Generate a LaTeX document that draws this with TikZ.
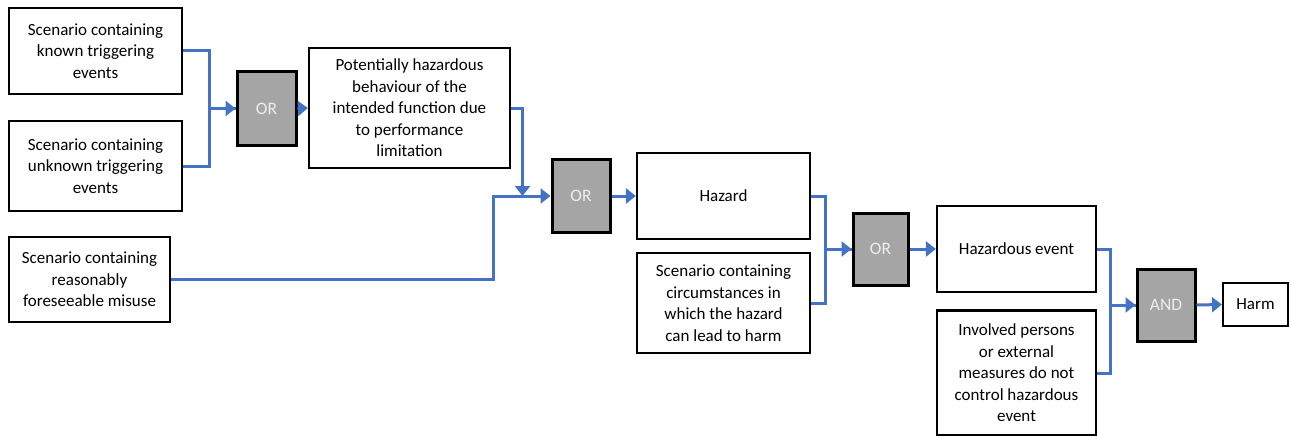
\documentclass[tikz,border=0pt]{standalone}
\usepackage{fontspec}
\setmainfont{Carlito}
\usetikzlibrary{arrows.meta,calc}
\definecolor{connblue}{HTML}{4472C4}
\definecolor{gategray}{HTML}{A5A5A5}
\tikzset{
  txtbox/.style={draw=black, line width=2.2pt, fill=white, align=center, inner sep=1pt,
    font=\fontsize{17}{21.5}\selectfont, text=black},
  gate/.style={draw=black, line width=3pt, fill=gategray, text=white!93!black,
    font=\fontsize{17.5}{20}\selectfont, minimum width=#1},
  gate/.default=58pt,
  conn/.style={draw=connblue, line width=3pt, -{Triangle[length=10pt,width=15pt]}},
  plain/.style={draw=connblue, line width=3pt},
}
\begin{document}
\begin{tikzpicture}[x=1pt,y=-1pt]
\useasboundingbox (0,0) rectangle (1291,436);
\node[txtbox, minimum width=173pt, minimum height=86pt] (A) at (95.5,51) {Scenario containing\\known triggering\\events};
\node[txtbox, minimum width=173pt, minimum height=90pt] (B) at (95.5,166) {Scenario containing\\unknown triggering\\events};
\node[txtbox, minimum width=161pt, minimum height=85pt] (C) at (89.5,279.5) {Scenario containing\\reasonably\\foreseeable misuse};
\node[gate=59pt, minimum height=73pt] (OR1) at (266.5,108.5) {OR};
\node[txtbox, minimum width=201pt, minimum height=120pt] (P) at (409.5,108) {Potentially hazardous\\behaviour of the\\intended function due\\to performance\\limitation};
\node[gate=58pt, minimum height=73pt] (OR2) at (581,196) {OR};
\node[txtbox, minimum width=173pt, minimum height=86pt] (Hz) at (723.5,196) {Hazard};
\node[txtbox, minimum width=173pt, minimum height=100pt] (Sc) at (723.5,303) {Scenario containing\\circumstances in\\which the hazard\\can lead to harm};
\node[gate=55pt, minimum height=72pt] (OR3) at (880.5,249) {OR};
\node[txtbox, minimum width=159pt, minimum height=86pt] (HE) at (1016.5,249) {Hazardous event};
\node[txtbox, minimum width=159pt, minimum height=125pt] (IP) at (1016.5,373) {Involved persons\\or external\\measures do not\\control hazardous\\event};
\node[gate=58pt, minimum height=72pt] (AND) at (1166,305) {AND};
\node[txtbox, minimum width=65pt, minimum height=43pt] (Harm) at (1255.5,304.5) {Harm};

\draw[conn] (A.east) -- ++(26,0) |- (OR1.west);
\draw[plain] (B.east) -- ++(26,0) |- (OR1.west);
\draw[conn] (OR1.east) -- (P.west);
\coordinate (j2) at ($(OR2.west)+(-28,0)$);
\draw[conn] (P.east) -| (j2);
\draw[conn] (C.east) -| ($(OR2.west)+(-57,0)$) -- (OR2.west);
\draw[conn] (OR2.east) -- (Hz.west);
\draw[conn] (Hz.east) -- ++(14,0) |- (OR3.west);
\draw[plain] (Sc.east) -- ++(14,0) |- (OR3.west);
\draw[conn] (OR3.east) -- (HE.west);
\draw[conn] (HE.east) -- ++(13,0) |- (AND.west);
\draw[plain] (IP.east) -- ++(13,0) |- (AND.west);
\draw[conn] (AND.east) -- (Harm.west);
\end{tikzpicture}
\end{document}
